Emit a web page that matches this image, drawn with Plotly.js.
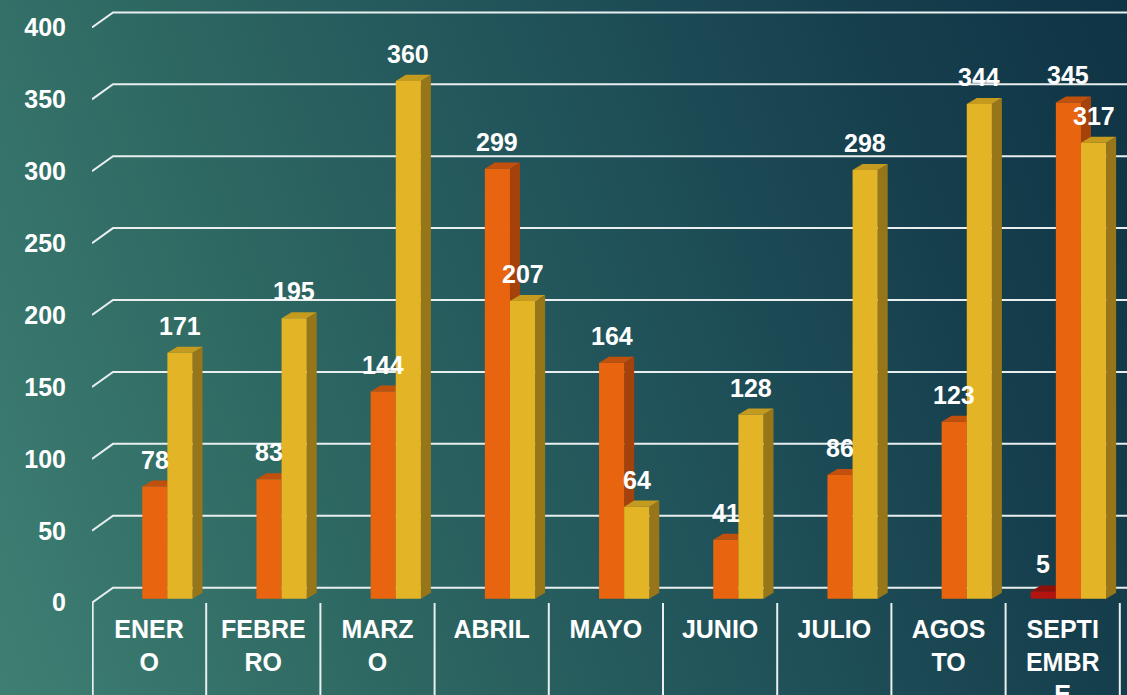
<!DOCTYPE html>
<html>
<head>
<meta charset="utf-8">
<script src="https://cdn.plot.ly/plotly-3.0.1.min.js"></script>
<style>
  html, body { margin: 0; padding: 0; }
  #chart {
    width: 1127px; height: 695px;
    background: linear-gradient(70deg, #3e7f73 0%, #2e6862 28%, #21535a 55%, #163f4d 80%, #0f3445 100%);
  }
</style>
</head>
<body>
<div id="chart"></div>
<script>
// ---- data ----
const months = ["ENERO", "FEBRERO", "MARZO", "ABRIL", "MAYO", "JUNIO", "JULIO", "AGOSTO", "SEPTIEMBRE"];
const monthLabels = ["ENER<br>O", "FEBRE<br>RO", "MARZ<br>O", "ABRIL", "MAYO", "JUNIO", "JULIO", "AGOS<br>TO", "SEPTI<br>EMBR<br>E"];
const seriesRed    = [null, null, null, null, null, null, null, null, 5];
const seriesOrange = [78, 83, 144, 299, 164, 41, 86, 123, 345];
const seriesYellow = [171, 195, 360, 207, 64, 128, 298, 344, 317];
const yTicks = [0, 50, 100, 150, 200, 250, 300, 350, 400];

// ---- styling ----
const FONT = "Liberation Sans, Arial, sans-serif";
const barW = 0.22;
const depthX = 0.0876;  // 3D depth, x units
const depthY = 4.2;     // 3D depth, y units
const series = [
  { name: "Serie 1", vals: seriesRed,    offset: -0.28, front: "#b3140f", side: "#7a0c08", top: "#8e100b" },
  { name: "Serie 2", vals: seriesOrange, offset: -0.06, front: "#e8640f", side: "#a5420b", top: "#c2500d" },
  { name: "Serie 3", vals: seriesYellow, offset:  0.16, front: "#e4b427", side: "#97761a", top: "#c49b1f" }
];
const xMax = 8.563;

const traces = series.map(s => ({
  type: "bar",
  name: s.name,
  x: months,
  y: s.vals,
  width: barW,
  offset: s.offset,
  marker: { color: s.front, line: { width: 0 } },
  hoverinfo: "skip",
  showlegend: false
}));

const shapes = [];
// grid lines with perspective slant
yTicks.forEach(t => {
  shapes.push({
    type: "path", xref: "x", yref: "y", layer: "below",
    path: `M -0.5,${t - 2.8} L -0.316,${t + 7.65} L ${xMax},${t + 7.65}`,
    line: { color: "#e9efef", width: 2 }
  });
});
// category dividers below axis
for (let i = 0; i <= months.length; i++) {
  shapes.push({
    type: "line", xref: "x", yref: "paper", layer: "below",
    x0: i - 0.5 + (i === 0 ? 0.006 : 0), x1: i - 0.5 + (i === 0 ? 0.006 : 0), y0: 0, y1: -0.2,
    line: { color: "#e9efef", width: 2 }
  });
}
// 3D faces of bars
months.forEach((m, i) => {
  series.forEach(s => {
    const v = s.vals[i];
    if (v === null || v === undefined) return;
    const x0 = i + s.offset, x1 = x0 + barW;
    shapes.push({
      type: "path", xref: "x", yref: "y", layer: "below",
      path: `M ${x1},0 L ${x1 + depthX},${depthY} L ${x1 + depthX},${v + depthY} L ${x1},${v} Z`,
      fillcolor: s.side, line: { width: 0 }
    });
    shapes.push({
      type: "path", xref: "x", yref: "y", layer: "below",
      path: `M ${x0},${v} L ${x0 + depthX},${v + depthY} L ${x1 + depthX},${v + depthY} L ${x1},${v} Z`,
      fillcolor: s.top, line: { width: 0 }
    });
  });
});

// value labels
const annotations = [];
series.forEach(s => {
  s.vals.forEach((v, i) => {
    if (v === null || v === undefined) return;
    annotations.push({
      x: i + s.offset + barW / 2, y: v, xref: "x", yref: "y",
      text: String(v), showarrow: false, yshift: 27,
      font: { family: FONT, size: 25, color: "#ffffff", weight: 700 }
    });
  });
});

const layout = {
  width: 1127, height: 695,
  margin: { l: 92, r: 0, t: 9, b: 92 },
  paper_bgcolor: "rgba(0,0,0,0)",
  plot_bgcolor: "rgba(0,0,0,0)",
  barmode: "overlay",
  showlegend: false,
  xaxis: {
    type: "category",
    range: [-0.5, xMax],
    tickvals: months,
    ticktext: monthLabels,
    showgrid: false, zeroline: false, showline: false, ticks: "",
    tickfont: { family: FONT, size: 25, color: "#ffffff", weight: 700 },
    ticklabelstandoff: 9
  },
  yaxis: {
    range: [-3, 410],
    tickvals: yTicks,
    ticktext: yTicks.map(String),
    showgrid: false, zeroline: false, showline: false, ticks: "",
    tickfont: { family: FONT, size: 25, color: "#ffffff", weight: 700 },
    ticklabelstandoff: 25,
    ticklabelshift: 4
  },
  shapes: shapes,
  annotations: annotations
};

Plotly.newPlot("chart", traces, layout, { displayModeBar: false, staticPlot: true });
</script>
</body>
</html>
